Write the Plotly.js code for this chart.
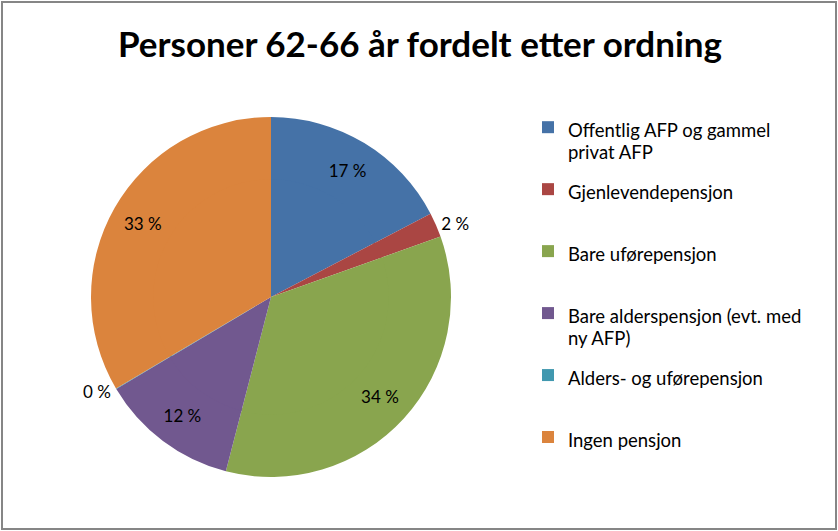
<!DOCTYPE html>
<html>
<head>
<meta charset="utf-8">
<script src="https://cdn.plot.ly/plotly-3.0.1.min.js"></script>
<style>
  html, body { margin: 0; padding: 0; background: #fff; }
  #wrap { position: relative; width: 838px; height: 531px; }
  #chart { width: 838px; height: 531px; }
  #frame { position: absolute; left: 1px; top: 1px; width: 832px; height: 525px;
           border: 2px solid #868686; pointer-events: none; }
</style>
</head>
<body>
<div id="wrap">
  <div id="chart"></div>
  <div id="frame"></div>
</div>
<script>
const categories = [
  "Offentlig AFP og gammel<br>privat AFP",
  "Gjenlevendepensjon",
  "Bare uførepensjon",
  "Bare alderspensjon (evt. med<br>ny AFP)",
  "Alders- og uførepensjon",
  "Ingen pensjon"
];
const shares = [17.3, 2.2, 34.4, 12.4, 0.05, 33.4];
const colors = ["#4572A7", "#AA4643", "#89A54E", "#71588F", "#4198AF", "#DB843D"];
const textPositions = ["inside", "outside", "inside", "inside", "outside", "inside"];

const total = shares.reduce((a, b) => a + b, 0);
const labelsText = shares.map(v => Math.round(v / total * 100) + " %");
// legend labels: a small base font gives fine line slots; visible lines are
// placed in slots 1 and 4 so wrapped lines sit ~22px apart, items ~62px apart
const SLOTS = 8, SLOT_POS = [1, 4];
const legendLabels = categories.map(c => {
  const lines = c.split("<br>");
  const out = new Array(SLOTS).fill(" ");
  lines.forEach((l, i) => { out[SLOT_POS[i]] = '<span style="font-size:18.5px">' + l + '</span>'; });
  return out.join("<br>");
});

const W = 838, H = 531;
const cx = 271, cy = 297, R = 180, holeFrac = 0.64;
const r2 = R * holeFrac + 2.5;

const ring = {
  type: "pie",
  labels: legendLabels,
  values: shares,
  text: labelsText,
  textinfo: "text",
  textposition: textPositions,
  insidetextorientation: "horizontal",
  sort: false,
  direction: "clockwise",
  rotation: 0,
  hole: holeFrac,
  marker: { colors: colors, line: { width: 0 } },
  textfont: { family: "Lato, sans-serif", size: 17, color: "#000000" },
  outsidetextfont: { family: "Lato, sans-serif", size: 17, color: "#000000" },
  hoverinfo: "none",
  domain: { x: [(cx - R) / W, (cx + R) / W], y: [1 - (cy + R) / H, 1 - (cy - R) / H] },
  automargin: false
};

const core = {
  type: "pie",
  labels: legendLabels,
  values: shares,
  textinfo: "none",
  sort: false,
  direction: "clockwise",
  rotation: 0,
  showlegend: false,
  marker: { colors: colors, line: { width: 0 } },
  hoverinfo: "none",
  domain: { x: [(cx - r2) / W, (cx + r2) / W], y: [1 - (cy + r2) / H, 1 - (cy - r2) / H] },
  automargin: false
};

const layout = {
  width: W, height: H,
  margin: { l: 0, r: 0, t: 0, b: 0 },
  paper_bgcolor: "#ffffff",
  title: {
    text: "<b>Personer 62-66 år fordelt etter ordning</b>",
    font: { family: "Lato, sans-serif", size: 35, color: "#000000" },
    x: 420 / W, xanchor: "center", xref: "paper",
    y: 1 - 45 / H, yanchor: "middle", yref: "container"
  },
  showlegend: true,
  legend: {
    x: 528 / W, xanchor: "left",
    y: 1 - 117 / H, yanchor: "top",
    valign: "top",
    font: { family: "Lato, sans-serif", size: 5.67, color: "#000000" },
    bgcolor: "rgba(0,0,0,0)",
    traceorder: "normal"
  }
};

Plotly.newPlot("chart", [ring, core], layout, { displayModeBar: false, staticPlot: true });
</script>
</body>
</html>
